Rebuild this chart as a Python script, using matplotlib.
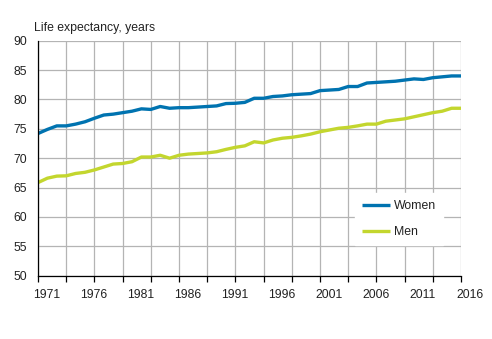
import matplotlib
matplotlib.use("Agg")
import matplotlib.pyplot as plt
import matplotlib.transforms as mtransforms

plt.rcParams['font.family'] = ['Liberation Sans', 'DejaVu Sans']

years = list(range(1971, 2017))
women = [74.2, 74.9, 75.5, 75.5, 75.8, 76.2, 76.8, 77.35, 77.5, 77.75,
         78.0, 78.4, 78.3, 78.8, 78.5, 78.6, 78.6, 78.7, 78.8, 78.9,
         79.3, 79.35, 79.5, 80.2, 80.2, 80.5, 80.6, 80.8, 80.9, 81.0,
         81.5, 81.6, 81.7, 82.2, 82.2, 82.8, 82.9, 83.0, 83.1, 83.3,
         83.5, 83.4, 83.7, 83.85, 84.0, 84.0]
men = [65.85, 66.6, 66.95, 67.0, 67.4, 67.6, 68.0, 68.5, 69.0, 69.1,
       69.4, 70.2, 70.2, 70.5, 70.0, 70.5, 70.7, 70.8, 70.9, 71.1,
       71.5, 71.85, 72.1, 72.8, 72.6, 73.1, 73.4, 73.55, 73.8, 74.1,
       74.5, 74.8, 75.1, 75.25, 75.5, 75.8, 75.8, 76.3, 76.5, 76.7,
       77.05, 77.4, 77.75, 78.0, 78.5, 78.5]
label_years = list(range(1971, 2017, 5))

fig = plt.figure(figsize=(4.92, 3.39), dpi=100)
ax = fig.add_axes([38/492, 1-275.7/339, 423/492, 235/339])

ax.plot(years, women, color='#0073b0', lw=2.4, label='Women', solid_capstyle='butt')
ax.plot(years, men, color='#c3d62e', lw=2.4, label='Men', solid_capstyle='butt')

ax.set_xlim(1971, 2016)
ax.set_ylim(50, 90)
ax.set_yticks(range(50, 91, 5))
ax.set_xticks(range(1971, 2017, 3))
ax.set_xticklabels([])
ax.grid(True, color='#b4b4b4', lw=0.9)
ax.set_axisbelow(True)

for s in ['top', 'right']:
    ax.spines[s].set_visible(False)
ax.spines['left'].set_color('black')
ax.spines['bottom'].set_color('black')
ax.spines['left'].set_linewidth(0.9)
ax.spines['bottom'].set_linewidth(0.9)

ax.tick_params(axis='y', length=0, pad=8, labelsize=8.8, colors='#222222')
ax.tick_params(axis='x', length=4, width=0.9, direction='out', color='black')

# year labels sit a bit right of the tick, like in the source chart
trans = mtransforms.blended_transform_factory(ax.transData, ax.transAxes)
for yr in label_years:
    ax.text(yr + 0.93, -0.055, str(yr), transform=trans, ha='center', va='top',
            fontsize=8.8, color='#222222')

fig.text(34/492, 1-28/339, 'Life expectancy, years', ha='left', va='center',
         fontsize=8.8, color='#222222')

leg = ax.legend(loc='center', bbox_to_anchor=(399/492, 1-219/339),
                bbox_transform=fig.transFigure, frameon=True, fancybox=False,
                edgecolor='white', facecolor='white', framealpha=1,
                fontsize=8.8, handlelength=2.3, handletextpad=0.3,
                labelspacing=1.15, borderpad=0.6)
for t in leg.get_texts():
    t.set_color('#222222')

fig.savefig('out.png', dpi=100)
